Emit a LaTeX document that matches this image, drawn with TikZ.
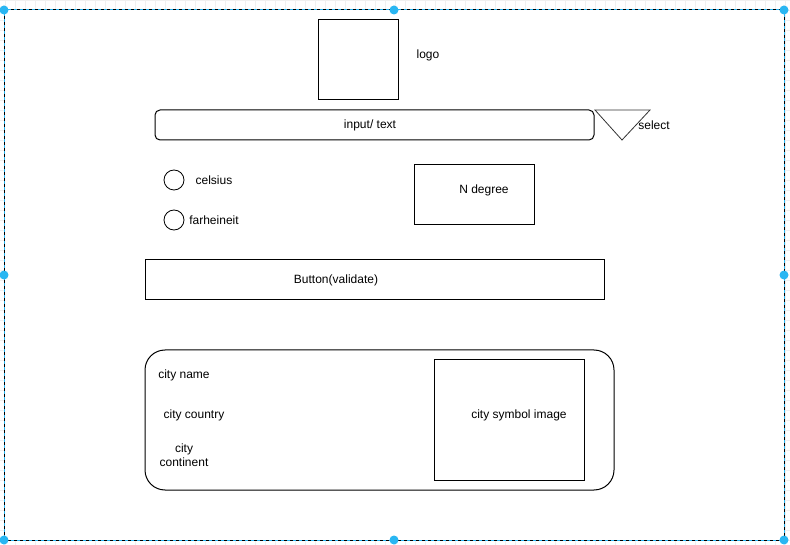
\documentclass[tikz,border=0pt]{standalone}
\usepackage{fontspec}
\setmainfont{Liberation Sans}
\definecolor{selblue}{HTML}{29B6F2}
\definecolor{gridc}{HTML}{F0F0F0}
\begin{document}
\begin{tikzpicture}[x=1pt,y=-1pt,
  every node/.style={font=\fontsize{12}{14}\selectfont, inner sep=0pt},
  box/.style={draw=black, line width=1pt},
  lbl/.style={text=black},
  handle/.style={circle, fill=selblue, minimum size=9pt, inner sep=0pt}]
\useasboundingbox (0,0) rectangle (790,545);
% faint background grid
\foreach \gx in {5,15,...,785} \draw[gridc, line width=0.5pt] (\gx,0) -- (\gx,545);
\foreach \gy in {0,10,...,540} \draw[gridc, line width=0.5pt] (0,\gy) -- (790,\gy);
\fill[white] (4,10) rectangle (784,540);
% selection frame
\draw[selblue, line width=1pt] (4,10) rectangle (784,540);
\draw[black, line width=1pt, dash pattern=on 3pt off 3pt] (4,10) rectangle (784,540);
% logo
\node[box, minimum width=80pt, minimum height=80pt] (logo) at (358,60) {};
\node[lbl] (logot) at (428,55) {logo};
% input
\draw[box, rounded corners=5pt] (155,110) rectangle (594,140);
\node[lbl] (input) at (370,125) {input/ text};
% select triangle
\draw[line width=0.8pt, black!80] (595,110) -- (650,110) -- (622,140) -- cycle;
\node[lbl] (select) at (654,125) {select};
% radio buttons
\node[draw=black, line width=0.8pt, circle, minimum size=20pt] (r1) at (174,180) {};
\node[draw=black, line width=0.8pt, circle, minimum size=20pt] (r2) at (174,220) {};
\node[lbl] (cel) at (214,180) {celsius};
\node[lbl] (far) at (214,220) {farheineit};
% N degree
\node[box, minimum width=120pt, minimum height=60pt] (ndeg) at (474,195) {};
\node[lbl] (ndegt) at (484,190) {N degree};
% button
\node[box, minimum width=459pt, minimum height=40pt] (btn) at (374.5,280) {};
\node[lbl] (btnt) at (336,280) {Button(validate)};
% city card
\draw[box, rounded corners=20pt] (145,350) rectangle (614,490);
\node[lbl] (cname) at (184,375) {city name};
\node[lbl] (ccountry) at (194,415) {city country};
\node[lbl, align=center] (ccont) at (184,455) {city\\continent};
\node[box, minimum width=150pt, minimum height=120pt] (img) at (509,420) {};
\node[lbl] (imgt) at (519,415) {city symbol image};
% handles
\foreach \hx/\hy [count=\i] in {4/10,394/10,784/10,4/275,784/275,4/540,394/540,784/540}
  \node[handle] (h\i) at (\hx,\hy) {};
\end{tikzpicture}
\end{document}
